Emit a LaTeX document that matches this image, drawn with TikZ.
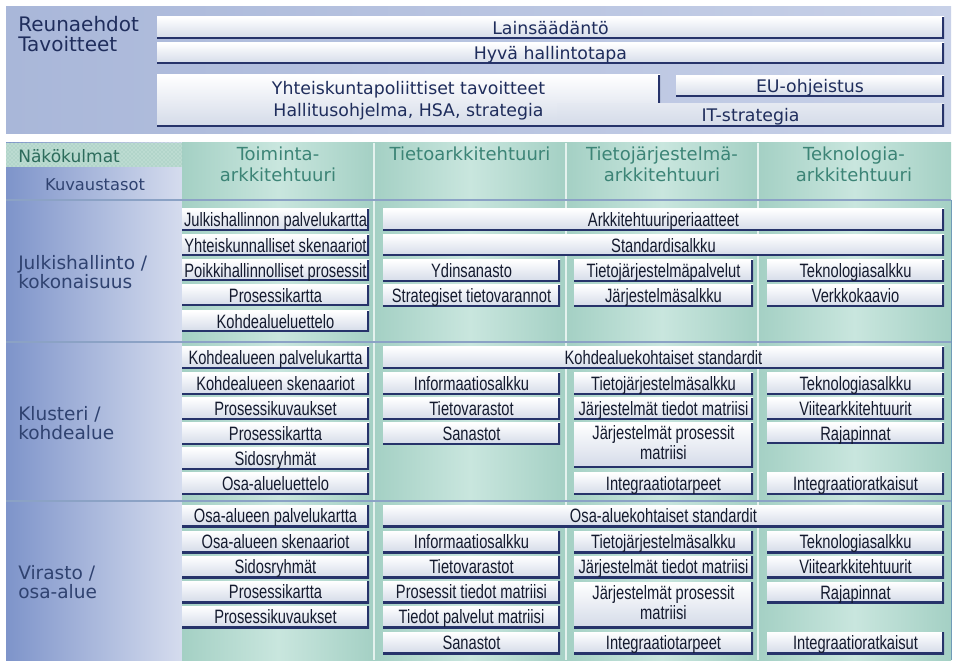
\documentclass[tikz,border=0pt]{standalone}
\usepackage{fontspec}
\setmainfont{DejaVu Sans}
\newfontfamily\narrowfont[FakeStretch=0.76]{Liberation Sans}
\usetikzlibrary{patterns}
\definecolor{navy}{HTML}{26336A}
\definecolor{navytext}{HTML}{1F2D5C}
\definecolor{celltext}{HTML}{141A2E}
\definecolor{labeltext}{HTML}{2F4270}
\definecolor{tealtext}{HTML}{3C8476}
\definecolor{greentext}{HTML}{2C6B5B}
\definecolor{cellbot}{HTML}{D3DAE8}
\definecolor{topL}{HTML}{A9B7D9}
\definecolor{topR}{HTML}{C8D1E8}
\definecolor{leftL}{HTML}{7E94CA}
\definecolor{leftR}{HTML}{D5DCEE}
\definecolor{tealA}{HTML}{A4D0C4}
\definecolor{tealB}{HTML}{C9E6DE}
\definecolor{sepblue}{HTML}{8BA2C5}
\definecolor{sepwhite}{HTML}{E4F2EE}
\definecolor{dotbg}{HTML}{BCDBD1}
\definecolor{dotfg}{HTML}{93C2B3}
\newcommand\boxat[7]{\node[#1, minimum width={(#5-#3)*0.75pt}, minimum height={(#6-#4)*0.75pt}] (#2) at ({(#3+#5)/2},{(#4+#6)/2}) {#7};}
\newcommand\cellnode[6]{\boxat{cell}{#1}{#2}{#3}{#4}{#5}{#6}}
\newcommand\celltwo[7]{\boxat{cellbase}{#1}{#2}{#3}{#4}{#5}{\begin{tabular}{@{}c@{}}#6\\#7\end{tabular}}}
\newcommand\barnode[6]{\boxat{topbar}{#1}{#2}{#3}{#4}{#5}{#6}}
\begin{document}
\begin{tikzpicture}[x=0.75pt,y=-0.75pt,
  boxbase/.style={inner sep=0pt, outer sep=0pt, top color=white, bottom color=cellbot,
    path picture={\draw[navy, line width=3.2pt] (path picture bounding box.south west) -- (path picture bounding box.south east) -- (path picture bounding box.north east);}},
  cellbase/.style={boxbase, font=\narrowfont\fontsize{14.5}{15}\selectfont, text=celltext},
  cell/.style={cellbase, text height=12pt, text depth=1.6pt},
  topbarbase/.style={boxbase, font=\fontsize{13}{16.5}\selectfont, text=navytext},
  topbar/.style={topbarbase, text height=11pt, text depth=1.5pt},
  itbar/.style={topbar, top color=cellbot!60!white},
  hdr/.style={inner sep=0pt, align=center, font=\fontsize{13.5}{15.5}\selectfont, text=tealtext},
  rowlabel/.style={inner sep=0pt, align=left, anchor=west, font=\fontsize{13.9}{14}\selectfont, text=labeltext}
]
\useasboundingbox (0,0) rectangle (957,666);
\fill[white] (0,0) rectangle (957,666);
% top panel
\shade[left color=topL, right color=topR] (6,7) rectangle (951,134);
% left panel
\shade[left color=leftL, right color=leftR] (6,143) rectangle (182,660);
% teal columns
\shade[left color=tealA, right color=tealA, middle color=tealB] (182,143) rectangle (374,660);
\shade[left color=tealA, right color=tealA, middle color=tealB] (374,143) rectangle (566,660);
\shade[left color=tealA, right color=tealA, middle color=tealB] (566,143) rectangle (758,660);
\shade[left color=tealA, right color=tealA, middle color=tealB] (758,143) rectangle (951,660);
% Näkökulmat header
\fill[dotbg] (6,143) rectangle (182,167);
\fill[pattern=crosshatch dots, pattern color=dotfg] (6,143) rectangle (182,167);
% separators
\foreach \xx in {374,566,758} \draw[sepwhite, line width=1.2pt] (\xx,143) -- (\xx,660);
\foreach \yy in {200,342,501} \draw[sepblue, line width=0.9pt] (6,\yy) -- (951,\yy);
\draw[sepblue!80!teal, line width=0.7pt] (951,200) -- (951,660);

% labels
\node[rowlabel, font=\fontsize{15}{15}\selectfont, text=navytext] (reuna) at (18,34) {Reunaehdot\\[-0.5pt]Tavoitteet};
\node[rowlabel, font=\fontsize{12.8}{14}\selectfont, text=greentext] (nako) at (18,156) {Näkökulmat};
\node[inner sep=0pt, font=\fontsize{12.2}{14}\selectfont, text=labeltext] (kuva) at (95,185) {Kuvaustasot};
\node[rowlabel] (lev1) at (18,272) {Julkishallinto /\\kokonaisuus};
\node[rowlabel] (lev2) at (18,423) {Klusteri /\\kohdealue};
\node[rowlabel] (lev3) at (18,582) {Virasto /\\osa-alue};

\node[hdr, anchor=north] (h1) at (278,147) {Toiminta-\\arkkitehtuuri};
\node[hdr, anchor=north] (h2) at (470,147) {Tietoarkkitehtuuri};
\node[hdr, anchor=north] (h3) at (662,147) {Tietojärjestelmä-\\arkkitehtuuri};
\node[hdr, anchor=north] (h4) at (854,147) {Teknologia-\\arkkitehtuuri};

% top bars
\barnode{laki}{157}{17}{944}{39}{Lainsäädäntö}
\barnode{hyva}{157}{43}{944}{64}{Hyvä hallintotapa}
\boxat{topbarbase}{yht}{157}{75}{660}{127}{\begin{tabular}{@{}c@{}}Yhteiskuntapoliittiset tavoitteet\\Hallitusohjelma, HSA, strategia\end{tabular}}
\barnode{eu}{676}{76}{944}{97}{EU-ohjeistus}
\boxat{itbar}{its}{557}{104}{944}{127}{IT-strategia}

% row 1
\cellnode{a1}{182}{209}{369}{231}{Julkishallinnon palvelukartta}
\cellnode{a2}{182}{235}{369}{256}{Yhteiskunnalliset skenaariot}
\cellnode{a3}{182}{260}{369}{281}{Poikkihallinnolliset prosessit}
\cellnode{a4}{182}{285}{369}{306}{Prosessikartta}
\cellnode{a5}{182}{311}{369}{332}{Kohdealueluettelo}
\cellnode{w1}{383}{209}{944}{231}{Arkkitehtuuriperiaatteet}
\cellnode{w2}{383}{235}{944}{256}{Standardisalkku}
\cellnode{b1}{383}{260}{560}{282}{Ydinsanasto}
\cellnode{b2}{383}{285}{560}{307}{Strategiset tietovarannot}
\cellnode{c1}{574}{260}{753}{282}{Tietojärjestelmäpalvelut}
\cellnode{c2}{574}{285}{753}{307}{Järjestelmäsalkku}
\cellnode{d1}{767}{260}{944}{282}{Teknologiasalkku}
\cellnode{d2}{767}{285}{944}{307}{Verkkokaavio}

% row 2
\cellnode{e1}{182}{347}{369}{369}{Kohdealueen palvelukartta}
\cellnode{e2}{182}{373}{369}{395}{Kohdealueen skenaariot}
\cellnode{e3}{182}{398}{369}{420}{Prosessikuvaukset}
\cellnode{e4}{182}{423}{369}{445}{Prosessikartta}
\cellnode{e5}{182}{448}{369}{470}{Sidosryhmät}
\cellnode{e6}{182}{473}{369}{495}{Osa-alueluettelo}
\cellnode{w3}{383}{347}{944}{369}{Kohdealuekohtaiset standardit}
\cellnode{f1}{383}{373}{560}{395}{Informaatiosalkku}
\cellnode{f2}{383}{398}{560}{420}{Tietovarastot}
\cellnode{f3}{383}{423}{560}{445}{Sanastot}
\cellnode{g1}{574}{373}{753}{395}{Tietojärjestelmäsalkku}
\cellnode{g2}{574}{398}{753}{420}{Järjestelmät tiedot matriisi}
\celltwo{g3}{574}{423}{753}{468}{Järjestelmät prosessit}{matriisi}
\cellnode{g4}{574}{473}{753}{495}{Integraatiotarpeet}
\cellnode{k1}{767}{373}{944}{395}{Teknologiasalkku}
\cellnode{k2}{767}{398}{944}{420}{Viitearkkitehtuurit}
\cellnode{k3}{767}{423}{944}{444}{Rajapinnat}
\cellnode{k4}{767}{473}{944}{495}{Integraatioratkaisut}

% row 3
\cellnode{m1}{182}{505}{369}{527}{Osa-alueen palvelukartta}
\cellnode{m2}{182}{531}{369}{553}{Osa-alueen skenaariot}
\cellnode{m3}{182}{556}{369}{578}{Sidosryhmät}
\cellnode{m4}{182}{581}{369}{603}{Prosessikartta}
\cellnode{m5}{182}{606}{369}{628}{Prosessikuvaukset}
\cellnode{w4}{383}{505}{944}{527}{Osa-aluekohtaiset standardit}
\cellnode{n1}{383}{531}{560}{553}{Informaatiosalkku}
\cellnode{n2}{383}{556}{560}{578}{Tietovarastot}
\cellnode{n3}{383}{581}{560}{603}{Prosessit tiedot matriisi}
\cellnode{n4}{383}{606}{560}{628}{Tiedot palvelut matriisi}
\cellnode{n5}{383}{632}{560}{654}{Sanastot}
\cellnode{p1}{574}{531}{753}{553}{Tietojärjestelmäsalkku}
\cellnode{p2}{574}{556}{753}{578}{Järjestelmät tiedot matriisi}
\celltwo{p3}{574}{582}{753}{628}{Järjestelmät prosessit}{matriisi}
\cellnode{p4}{574}{632}{753}{654}{Integraatiotarpeet}
\cellnode{q1}{767}{531}{944}{553}{Teknologiasalkku}
\cellnode{q2}{767}{556}{944}{578}{Viitearkkitehtuurit}
\cellnode{q3}{767}{582}{944}{603}{Rajapinnat}
\cellnode{q4}{767}{632}{944}{654}{Integraatioratkaisut}
\end{tikzpicture}
\end{document}
